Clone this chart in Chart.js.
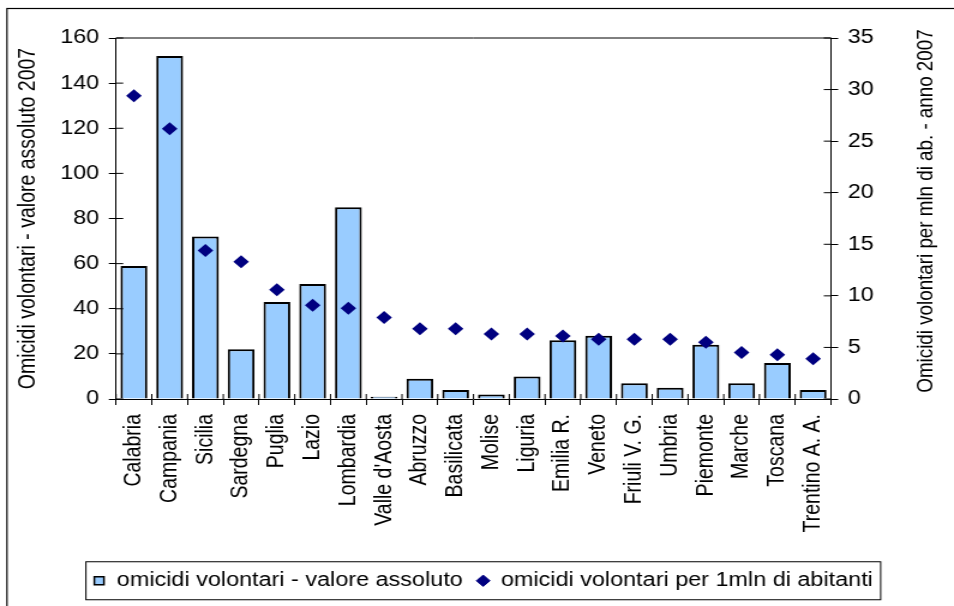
<!DOCTYPE html>
<html>
<head>
<meta charset="utf-8">
<script src="https://cdn.jsdelivr.net/npm/chart.js@4"></script>
<style>
html,body{margin:0;padding:0;background:#fff;overflow:hidden;width:954px;height:606px}
#wrap{position:absolute;left:0;top:0;width:795px;height:606px;transform:scaleX(1.2);transform-origin:0 0}
canvas{display:block}
</style>
</head>
<body>
<div id="wrap"><canvas id="c" width="795" height="606"></canvas></div>
<script>
const categories = ["Calabria","Campania","Sicilia","Sardegna","Puglia","Lazio","Lombardia","Valle d'Aosta","Abruzzo","Basilicata","Molise","Liguria","Emilia R.","Veneto","Friuli V. G.","Umbria","Piemonte","Marche","Toscana","Trentino A. A."];
const absoluteValues = [59,152,72,22,43,51,85,1,9,4,2,10,26,28,7,5,24,7,16,4];
const ratePerMillion = [29.4,26.2,14.4,13.3,10.6,9.1,8.8,7.9,6.8,6.8,6.3,6.3,6.1,5.8,5.8,5.8,5.5,4.5,4.3,3.9];
const seriesNames = ["omicidi volontari - valore assoluto","omicidi volontari per 1mln di abitanti"];
const leftAxisTitle = "Omicidi volontari - valore assoluto 2007";
const rightAxisTitle = "Omicidi volontari per mln di ab. - anno 2007";
const leftAxisRange = [0,160,20];
const rightAxisRange = [0,35,5];

const FONT = "'Liberation Sans', Arial, sans-serif";
const FS = 19.5;
Chart.defaults.font.family = FONT;
Chart.defaults.font.size = FS;
Chart.defaults.color = '#000';

function line(ctx,x1,y1,x2,y2){ctx.beginPath();ctx.moveTo(x1,y1);ctx.lineTo(x2,y2);ctx.stroke();}

const decor = {
  id:'decor',
  afterLayout(chart){
    const lg = chart.legend;
    if(lg){ lg.left += 5; lg.right += 5; }
  },
  beforeDraw(chart){
    const ctx = chart.ctx;
    ctx.save();
    ctx.fillStyle='#fff';
    ctx.fillRect(0,0,chart.width,chart.height);
    ctx.strokeStyle='#000';
    ctx.lineWidth=1.2;
    ctx.strokeRect(5.8,8.5,chart.width+20,chart.height+20);
    ctx.restore();
  },
  afterDraw(chart){
    const ctx = chart.ctx, a = chart.chartArea;
    ctx.save();
    ctx.strokeStyle='#000';
    ctx.lineWidth=1;
    line(ctx,a.left,a.top,a.right,a.top);
    const yl = chart.scales.y, yr = chart.scales.y2;
    yl.ticks.forEach(t=>{const y=yl.getPixelForValue(t.value);line(ctx,a.left,y,a.left+6,y);});
    yr.ticks.forEach(t=>{const y=yr.getPixelForValue(t.value);line(ctx,a.right-6,y,a.right,y);});
    const n = categories.length;
    for(let i=0;i<=n;i++){const x=a.left+i*(a.right-a.left)/n;line(ctx,x,a.bottom-5,x,a.bottom);}
    // right axis title (reads bottom to top)
    ctx.fillStyle='#000';
    ctx.font = '18.8px '+FONT;
    ctx.translate(771.5,211);
    ctx.rotate(-Math.PI/2);
    ctx.textAlign='center';
    ctx.textBaseline='middle';
    ctx.fillText(rightAxisTitle,0,0);
    ctx.restore();
    // legend frame
    const hb = chart.legend.legendHitBoxes;
    if(hb && hb.length){
      const l = Math.min(...hb.map(h=>h.left))-6;
      const r = Math.max(...hb.map(h=>h.left+h.width))+6.5;
      const cy = hb[0].top+hb[0].height/2;
      ctx.save();
      ctx.strokeStyle='#000';ctx.lineWidth=1;
      ctx.strokeRect(l,cy-19,r-l,38);
      ctx.restore();
    }
  }
};

new Chart(document.getElementById('c'),{
  type:'bar',
  data:{
    labels:categories,
    datasets:[
      {type:'bar',label:seriesNames[0],data:absoluteValues,yAxisID:'y',backgroundColor:'#99CCFF',borderColor:'#000',borderWidth:2,barPercentage:0.75,categoryPercentage:1,order:1},
      {type:'line',label:seriesNames[1],data:ratePerMillion,yAxisID:'y2',showLine:false,pointStyle:'rectRot',pointRadius:6.5,pointHoverRadius:6.5,backgroundColor:'#000080',borderColor:'#000080',borderWidth:1,pointBorderWidth:0,order:0}
    ]
  },
  options:{
    responsive:false,
    animation:false,
    events:[],
    layout:{padding:{top:38,left:0,right:0,bottom:5.5}},
    plugins:{
      tooltip:{enabled:false},
      legend:{
        position:'bottom',
        labels:{
          usePointStyle:true,boxWidth:10,boxHeight:8,padding:12,color:'#000',font:{size:FS},
          generateLabels:(chart)=>{
            const items = Chart.defaults.plugins.legend.labels.generateLabels(chart);
            items.forEach(it=>{
              if(it.datasetIndex===0){it.pointStyle='rect';it.fillStyle='#99CCFF';it.strokeStyle='#000';it.lineWidth=1.5;}
              else {it.pointStyle='rectRot';it.fillStyle='#000080';it.strokeStyle='#000080';it.lineWidth=1;}
            });
            return items.sort((a,b)=>a.datasetIndex-b.datasetIndex);
          }
        }
      }
    },
    scales:{
      x:{
        grid:{offset:true,drawOnChartArea:false,color:'#000',tickLength:6,lineWidth:1},
        border:{display:true,color:'#000',width:1},
        ticks:{autoSkip:false,minRotation:90,maxRotation:90,padding:9,color:'#000',font:{size:FS}},
        afterFit:(s)=>{s.height=160;}
      },
      y:{
        position:'left',min:leftAxisRange[0],max:leftAxisRange[1],
        ticks:{stepSize:leftAxisRange[2],padding:8,color:'#000',font:{size:FS}},
        grid:{drawOnChartArea:false,color:'#000',tickLength:6,lineWidth:1},
        border:{display:true,color:'#000',width:1},
        title:{display:true,text:leftAxisTitle,color:'#000',font:{size:FS},padding:{top:11.6,bottom:0}},
        afterFit:(s)=>{s.width=96.7;}
      },
      y2:{
        position:'right',min:rightAxisRange[0],max:rightAxisRange[1],
        ticks:{stepSize:rightAxisRange[2],padding:8,color:'#000',font:{size:FS}},
        grid:{drawOnChartArea:false,color:'#000',tickLength:6,lineWidth:1},
        border:{display:true,color:'#000',width:1},
        afterFit:(s)=>{s.width=102.5;}
      }
    }
  },
  plugins:[decor]
});
</script>
</body>
</html>
